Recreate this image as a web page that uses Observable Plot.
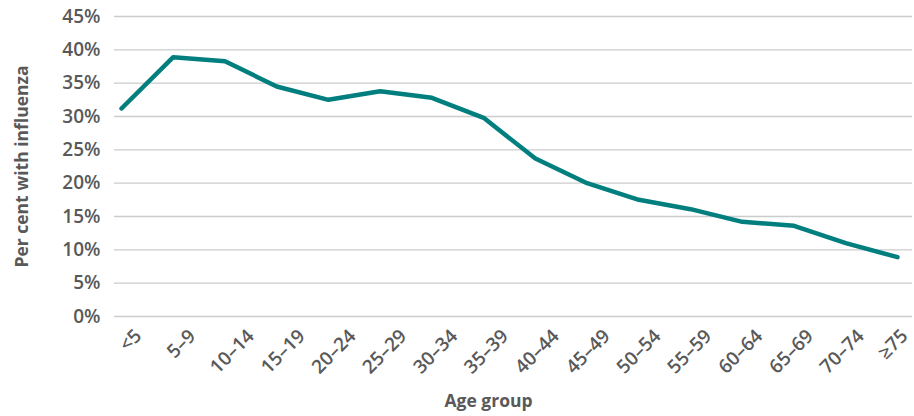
<!DOCTYPE html>
<html>
<head>
<meta charset="utf-8">
<script src="https://cdn.jsdelivr.net/npm/d3@7"></script>
<script src="https://cdn.jsdelivr.net/npm/@observablehq/plot@0.6"></script>
<style>
  html, body { margin: 0; padding: 0; background: #fff; }
  #chart svg { display: block; }
</style>
</head>
<body>
<div id="chart"></div>
<script>
const ageGroups = ["<5", "5–9", "10–14", "15–19", "20–24", "25–29", "30–34", "35–39",
                   "40–44", "45–49", "50–54", "55–59", "60–64", "65–69", "70–74", "≥75"];
const percentWithInfluenza = [31.2, 38.9, 38.3, 34.5, 32.5, 33.8, 32.8, 29.8,
                              23.7, 20.0, 17.5, 16.1, 14.2, 13.6, 11.0, 8.9];
const yTicks = [0, 5, 10, 15, 20, 25, 30, 35, 40, 45];
const xTitle = "Age group";
const yTitle = "Per cent with influenza";

const data = ageGroups.map((age, i) => ({age, pct: percentWithInfluenza[i]}));

const textColor = "#595959";
const font = "'Open Sans', 'Noto Sans', sans-serif";

const chart = Plot.plot({
  width: 914,
  height: 416,
  marginLeft: 114,
  marginRight: 2,
  marginTop: 16,
  marginBottom: 100,
  style: {fontFamily: font, fontSize: "17px", color: textColor, background: "#fff", overflow: "visible"},
  x: {type: "point", domain: ageGroups, padding: 0, round: false, insetLeft: 7, insetRight: 15, axis: null},
  y: {domain: [0, 45], axis: null},
  marks: [
    Plot.ruleY(yTicks, {stroke: "#cccccc", strokeWidth: 1.4}),
    Plot.axisY({ticks: yTicks, tickSize: 0, tickPadding: 14, tickFormat: d => d + "%",
                label: null, fontWeight: 600, fill: textColor, fontSize: 19}),
    Plot.axisX({tickSize: 0, tickPadding: 0, tickRotate: -45, label: null,
                fontWeight: 600, fill: textColor, fontSize: 19}),
    Plot.line(data, {x: "age", y: "pct", stroke: "#007f7e", strokeWidth: 4.5,
                     strokeLinejoin: "round", strokeLinecap: "round"}),
    Plot.text([xTitle], {frameAnchor: "bottom", dy: 85, dx: -25, lineAnchor: "middle",
                         fontWeight: 700, fill: textColor, fontSize: 17.5}),
    Plot.text([yTitle], {frameAnchor: "left", dx: -92, rotate: -90, lineAnchor: "middle",
                         textAnchor: "middle", fontWeight: 700, fill: textColor, fontSize: 17.5})
  ]
});

document.getElementById("chart").append(chart);

// Excel-style rotated category labels: each label's box centred near its tick, tops aligned
(function adjust() {
  const svgBox = chart.getBoundingClientRect();
  const texts = [...chart.querySelectorAll('g[aria-label="x-axis tick label"] text')];
  texts.forEach((t, i) => {
    const tr = t.getAttribute("transform") || "";
    const m = /translate\(\s*([-\d.e]+)\s*,\s*([-\d.e]+)\s*\)/.exec(tr);
    const tickX = m ? +m[1] : 0;
    const bb = t.getBoundingClientRect();
    const cx = bb.left - svgBox.left + bb.width / 2;
    const top = bb.top - svgBox.top;
    const dx = (tickX + 9 - 0.9 * i) - cx;
    const dy = 323 - top;
    t.setAttribute("transform", `translate(${dx},${dy}) ` + tr);
  });
})();
</script>
</body>
</html>
